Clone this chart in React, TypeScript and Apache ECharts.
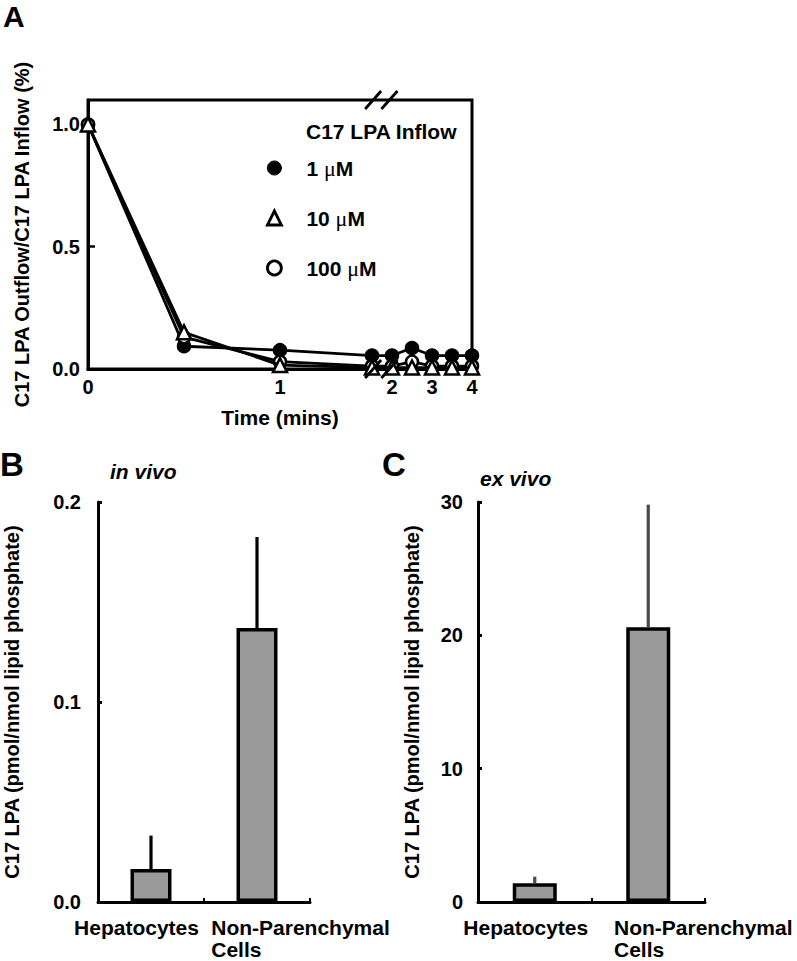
import React, { useEffect, useRef } from 'react';
import * as echarts from 'echarts';

// ---------- data ----------
const times = [0, 0.5, 1, 1.5, 2, 2.5, 3, 3.5, 4];
const outflow1uM = [1.0, 0.093, 0.077, 0.055, 0.055, 0.086, 0.055, 0.055, 0.055];
const outflow10uM = [1.0, 0.15, 0.016, 0.006, 0.006, 0.006, 0.006, 0.006, 0.006];
const outflow100uM = [1.0, 0.13, 0.03, 0.012, 0.012, 0.03, 0.012, 0.012, 0.012];
const timeTicks = [0, 1, 2, 3, 4];
const outflowTicks = [0, 0.5, 1.0];
const concLabels = ['1 μM', '10 μM', '100 μM'];
const cellTypes = ['Hepatocytes', 'Non-Parenchymal Cells'];
const inVivoMean = [0.0165, 0.137];
const inVivoErr = [0.0167, 0.0455];
const exVivoMean = [1.4, 20.6];
const exVivoErr = [0.5, 9.2];
const inVivoTicks = [0, 0.1, 0.2];
const exVivoTicks = [0, 10, 20, 30];

// broken time axis: 0..1 min on a wide scale, 1.5..4 min compressed
const RIGHT_UNIT = 40 / 192;
const pos = (t: number) => (t <= 1 ? t : 2 - (4 - t) * RIGHT_UNIT);
const BREAK_MARKS = [1.485, 1.57];

const FONT = '"Liberation Sans", Arial, Helvetica, sans-serif';
const bold = (size: number, extra: any = {}) => ({
  fontFamily: FONT,
  fontWeight: 'bold',
  fontSize: size,
  color: '#000',
  ...extra,
});

export default function App() {
  const ref = useRef<HTMLDivElement>(null);

  useEffect(() => {
    document.body.style.margin = '0';
    if (!ref.current) return;
    const chart = echarts.init(ref.current, undefined, { renderer: 'svg' });

    const catLabel = (v: string) => {
      if (v === 'Non-Parenchymal Cells') return '{a|Non-Parenchymal}\n{b|Cells}';
      return '{a|' + v + '}';
    };
    const catRich = {
      a: { ...bold(21), lineHeight: 22, align: 'center' },
      b: { ...bold(21), lineHeight: 22, align: 'left' },
    };

    const errRender = (color: string) => (params: any, api: any) => {
      const x = api.value(0);
      const v = api.value(1);
      const e = api.value(2);
      const p1 = api.coord([x, v]);
      const p2 = api.coord([x, v + e]);
      return {
        type: 'line',
        shape: { x1: p1[0], y1: p1[1], x2: p2[0], y2: p2[1] },
        style: { stroke: color, lineWidth: 3.2 },
      };
    };

    const legendFmt = (name: string) => {
      const [num] = name.split(' ');
      return '{s|}{t|' + num + ' }{mu|μ}{t|M}';
    };

    const lineSeries = (name: string, vals: number[], symbol: string, size: number, fill: string, z: number) => ({
      type: 'line',
      name,
      xAxisIndex: 0,
      yAxisIndex: 0,
      data: times.map((t, i) => [pos(t), vals[i]]),
      symbol,
      symbolSize: size,
      showAllSymbol: true,
      itemStyle: { color: fill, borderColor: '#000', borderWidth: 2.5 },
      lineStyle: { color: '#000', width: 2.8 },
      z,
    });

    const option: any = {
      animation: false,
      textStyle: { fontFamily: FONT },
      title: [
        { text: 'A', left: 3, top: 1, padding: 0, textStyle: bold(30) },
        { text: 'B', left: 0, top: 448, padding: 0, textStyle: bold(33) },
        { text: 'C', left: 382, top: 448, padding: 0, textStyle: bold(33) },
        { text: 'in vivo', left: 110, top: 461, padding: 0, textStyle: bold(21, { fontStyle: 'italic' }) },
        { text: 'ex vivo', left: 480, top: 468, padding: 0, textStyle: bold(21, { fontStyle: 'italic' }) },
        { text: 'C17 LPA Inflow', left: 306, top: 121, padding: 0, textStyle: bold(21) },
      ],
      legend: {
        orient: 'vertical',
        left: 266,
        top: 157,
        padding: 0,
        itemGap: 28,
        itemWidth: 14,
        itemHeight: 14,
        selectedMode: false,
        formatter: legendFmt,
        textStyle: {
          ...bold(21),
          rich: {
            s: { width: 20 },
            t: bold(21),
            mu: { fontFamily: '"Liberation Serif", "DejaVu Serif", serif', fontWeight: 'normal', fontSize: 22, color: '#000' },
          },
        },
        data: [
          { name: concLabels[0], icon: 'circle', itemStyle: { color: '#000', borderColor: '#000', borderWidth: 1 } },
          { name: concLabels[1], icon: 'triangle', itemStyle: { color: '#fff', borderColor: '#000', borderWidth: 2.8 } },
          { name: concLabels[2], icon: 'circle', itemStyle: { color: '#fff', borderColor: '#000', borderWidth: 2.8 } },
        ],
      },
      grid: [
        { left: 88, top: 100, width: 384, height: 269, show: true, borderColor: '#000', borderWidth: 3 },
        { left: 98, top: 502, width: 212, height: 400 },
        { left: 478, top: 502, width: 227, height: 400 },
      ],
      xAxis: [
        {
          gridIndex: 0,
          type: 'value',
          min: 0,
          max: 2,
          axisLine: { show: true, onZero: false, lineStyle: { color: '#000', width: 3 } },
          axisTick: { show: false },
          splitLine: { show: false },
          axisLabel: {
            customValues: timeTicks.map(pos),
            formatter: (v: number) => {
              const t = timeTicks.find((tt) => Math.abs(pos(tt) - v) < 1e-6);
              return t === undefined ? '' : String(t);
            },
            margin: 8,
            ...bold(20),
          },
          name: 'Time (mins)',
          nameLocation: 'middle',
          nameGap: 38,
          nameTextStyle: bold(21),
        },
        {
          gridIndex: 1,
          type: 'category',
          data: [
            { value: cellTypes[0], textStyle: { padding: [0, 29, 0, 0] } },
            { value: cellTypes[1], textStyle: { padding: [0, 0, 0, 87] } },
          ],
          axisLine: { lineStyle: { color: '#000', width: 3 } },
          axisTick: { show: true, inside: true, length: 4, lineStyle: { color: '#000', width: 2 } },
          axisLabel: { interval: 0, margin: 14, formatter: catLabel, rich: catRich, ...bold(21) },
        },
        {
          gridIndex: 2,
          type: 'category',
          data: [
            { value: cellTypes[0], textStyle: { padding: [0, 18, 0, 0] } },
            { value: cellTypes[1], textStyle: { padding: [0, 0, 0, 110] } },
          ],
          axisLine: { lineStyle: { color: '#000', width: 3 } },
          axisTick: { show: true, inside: true, length: 4, lineStyle: { color: '#000', width: 2 } },
          axisLabel: { interval: 0, margin: 14, formatter: catLabel, rich: catRich, ...bold(21) },
        },
      ],
      yAxis: [
        {
          gridIndex: 0,
          type: 'value',
          min: 0,
          max: 1.1,
          axisLine: { show: true, lineStyle: { color: '#000', width: 3 } },
          axisTick: { show: true, inside: true, length: 7, customValues: outflowTicks, lineStyle: { color: '#000', width: 2.5 } },
          axisLabel: { customValues: outflowTicks, formatter: (v: number) => v.toFixed(1), margin: 8, ...bold(20) },
          splitLine: { show: false },
          name: 'C17 LPA Outflow/C17 LPA Inflow (%)',
          nameLocation: 'middle',
          nameGap: 56,
          nameTextStyle: bold(20),
        },
        {
          gridIndex: 1,
          type: 'value',
          min: 0,
          max: 0.2,
          interval: 0.1,
          axisLine: { show: true, lineStyle: { color: '#000', width: 3 } },
          axisTick: { show: true, inside: true, length: 4, customValues: inVivoTicks, lineStyle: { color: '#000', width: 3 } },
          axisLabel: { customValues: inVivoTicks, formatter: (v: number) => v.toFixed(1), margin: 17, ...bold(20) },
          splitLine: { show: false },
          name: 'C17 LPA (pmol/nmol lipid phosphate)',
          nameLocation: 'middle',
          nameGap: 76,
          nameTextStyle: bold(20),
        },
        {
          gridIndex: 2,
          type: 'value',
          min: 0,
          max: 30,
          interval: 10,
          axisLine: { show: true, lineStyle: { color: '#000', width: 3 } },
          axisTick: { show: true, inside: true, length: 4, customValues: exVivoTicks, lineStyle: { color: '#000', width: 3 } },
          axisLabel: { customValues: exVivoTicks, formatter: (v: number) => String(v), margin: 15, ...bold(20) },
          splitLine: { show: false },
          name: 'C17 LPA (pmol/nmol lipid phosphate)',
          nameLocation: 'middle',
          nameGap: 56,
          nameTextStyle: bold(20),
        },
      ],
      series: [
        lineSeries(concLabels[0], outflow1uM, 'circle', 12, '#000', 2),
        lineSeries(concLabels[2], outflow100uM, 'circle', 12, '#fff', 3),
        lineSeries(concLabels[1], outflow10uM, 'triangle', 14, '#fff', 4),
        {
          type: 'bar',
          xAxisIndex: 1,
          yAxisIndex: 1,
          data: inVivoMean,
          barWidth: 41,
          itemStyle: { color: '#9a9a9a', borderColor: '#000', borderWidth: 3.5 },
          z: 2,
        },
        {
          type: 'custom',
          xAxisIndex: 1,
          yAxisIndex: 1,
          data: inVivoMean.map((m, i) => [i, m, inVivoErr[i]]),
          renderItem: errRender('#000'),
          silent: true,
          z: 3,
        },
        {
          type: 'bar',
          xAxisIndex: 2,
          yAxisIndex: 2,
          data: exVivoMean,
          barWidth: 44,
          itemStyle: { color: '#9a9a9a', borderColor: '#000', borderWidth: 3.5 },
          z: 2,
        },
        {
          type: 'custom',
          xAxisIndex: 2,
          yAxisIndex: 2,
          data: exVivoMean.map((m, i) => [i, m, exVivoErr[i]]),
          renderItem: errRender('#4a4a4a'),
          silent: true,
          z: 3,
        },
      ],
    };

    chart.setOption(option);

    // axis-break marks, positioned through the time axis scale
    const yb = chart.convertToPixel({ gridIndex: 0 } as any, [0, 0])[1];
    const yt = chart.convertToPixel({ gridIndex: 0 } as any, [0, 1.1])[1];
    const elems: any[] = [];
    BREAK_MARKS.forEach((p) => {
      const cx = chart.convertToPixel({ gridIndex: 0 } as any, [p, 0])[0];
      [yb, yt].forEach((yy) => {
        elems.push({
          type: 'line',
          shape: { x1: cx - 8, y1: yy + 9, x2: cx + 8, y2: yy - 9 },
          style: { stroke: '#000', lineWidth: 2.8 },
          z: 10,
        });
      });
    });
    chart.setOption({ graphic: elems });

    return () => chart.dispose();
  }, []);

  return <div ref={ref} style={{ width: 797, height: 961 }} />;
}
